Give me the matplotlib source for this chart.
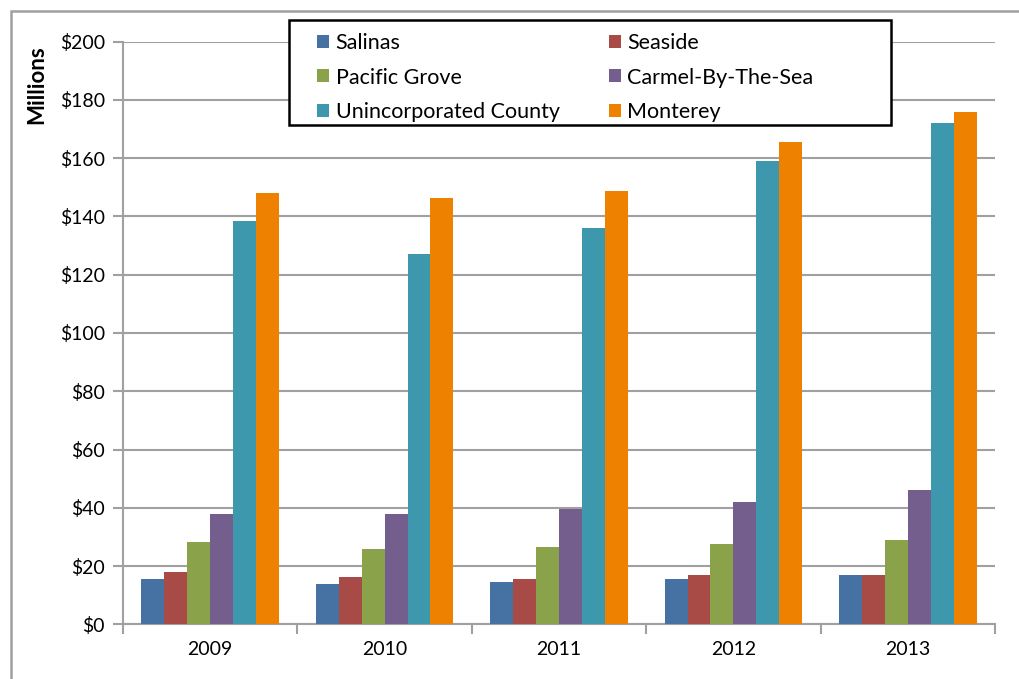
import matplotlib.pyplot as plt
from matplotlib.patches import Rectangle
import numpy as np

plt.rcParams["font.family"] = ["Lato", "DejaVu Sans"]

years = ["2009", "2010", "2011", "2012", "2013"]
series = ["Salinas", "Seaside", "Pacific Grove", "Carmel-By-The-Sea",
          "Unincorporated County", "Monterey"]
salinas = [15.6, 13.8, 14.6, 15.6, 17.0]
seaside = [17.9, 16.2, 15.4, 17.0, 17.0]
pacific_grove = [28.3, 25.8, 26.6, 27.6, 29.0]
carmel = [38.0, 38.0, 39.7, 41.9, 46.0]
unincorporated = [138.3, 127.0, 135.9, 159.0, 172.0]
monterey = [148.0, 146.2, 148.7, 165.5, 176.0]
values = [salinas, seaside, pacific_grove, carmel, unincorporated, monterey]
colors = ["#4572A3", "#A84A45", "#8AA34B", "#735E8E", "#3D97AD", "#EE8100"]

grid_col = "#A0A0A0"
W, H = 1019, 679

fig = plt.figure(figsize=(W / 100, H / 100), dpi=100)
ax = fig.add_axes([123 / W, 1 - 624.3 / H, 872 / W, 582.6 / H])

# outer chart border
fig.patches.append(Rectangle((11 / W, -0.05), 1.1, 1 - 11 / H + 0.05,
                             transform=fig.transFigure, fill=False,
                             edgecolor=grid_col, linewidth=1.8, zorder=0))

x = np.arange(len(years))
w = 0.1315
bars = []
for i, (name, vals) in enumerate(zip(series, values)):
    b = ax.bar(x + (i - 2.5) * w, vals, width=w, color=colors[i], label=name,
               zorder=3)
    bars.append(b)

ax.set_xlim(-0.5, 4.5)
ax.set_ylim(0, 200)
ax.set_yticks(range(0, 201, 20))
ax.set_yticklabels([f"${v}" for v in range(0, 201, 20)], fontsize=14)
ax.set_xticks(x)
ax.set_xticklabels(years, fontsize=14)
ax.set_xticks(np.arange(-0.5, 4.6, 1), minor=True)
ax.tick_params(axis="x", which="major", length=0, pad=12)
ax.tick_params(axis="x", which="minor", length=7, width=1.5, color=grid_col)
ax.tick_params(axis="y", length=7, width=1.5, color=grid_col, pad=6)

ax.grid(axis="y", color=grid_col, linewidth=1.5, zorder=0)
ax.set_axisbelow(True)
for s in ["top", "right"]:
    ax.spines[s].set_visible(False)
for s in ["left", "bottom"]:
    ax.spines[s].set_color(grid_col)
    ax.spines[s].set_linewidth(1.5)

fig.text(37 / W, 1 - 45 / H, "Millions", rotation=90, fontsize=16,
         fontweight="bold", ha="center", va="top")

# legend box (pixel extents of the reference)
x0 = (289 - 123) / 872
x1 = (891 - 123) / 872
y0 = (624.3 - 125) / 582.6
y1 = (624.3 - 20) / 582.6
ax.add_patch(Rectangle((x0, y0), x1 - x0, y1 - y0, transform=ax.transAxes,
                       facecolor="white", edgecolor="black", linewidth=1.8,
                       clip_on=False, zorder=4))

order = [0, 2, 4, 1, 3, 5]
leg = ax.legend([bars[i] for i in order], [series[i] for i in order],
                ncol=2, loc="upper left", bbox_to_anchor=(x0 + 0.025, y1 - 0.011),
                fontsize=15.5, frameon=False, handlelength=0.55,
                handleheight=0.55, handletextpad=0.3, columnspacing=2.3,
                borderpad=0.3, labelspacing=0.68, borderaxespad=0)
leg.set_zorder(5)

fig.savefig("out.png", dpi=100)
